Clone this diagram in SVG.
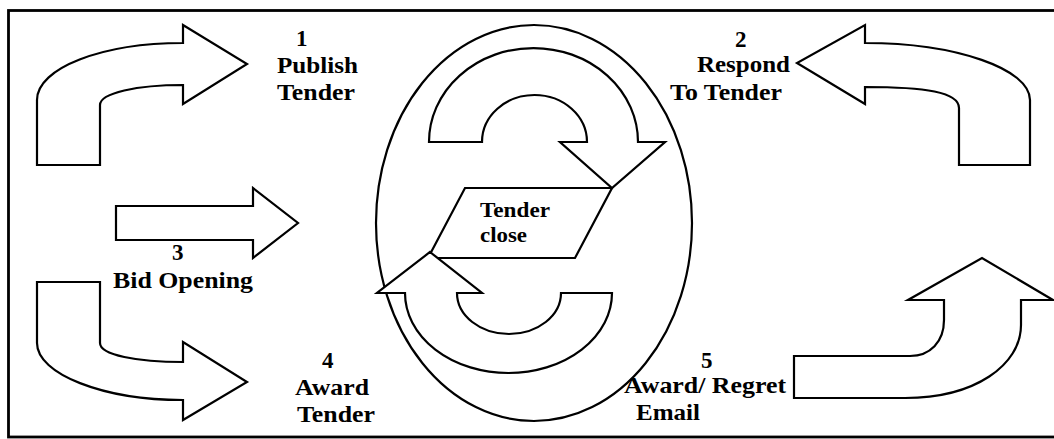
<svg xmlns="http://www.w3.org/2000/svg" width="1054" height="439" viewBox="0 0 1054 439">
<style>
.s{fill:#fff;stroke:#000;stroke-width:2.2;stroke-linejoin:miter}
.t{font-family:"Liberation Serif","Times New Roman",serif;font-weight:bold;font-size:23px;fill:#000}
.c{font-size:20px}
</style>
<rect x="0" y="0" width="1054" height="439" fill="#fff"/>
<rect x="8.5" y="10.5" width="1060" height="426.5" fill="none" stroke="#000" stroke-width="2.8"/>
<g id="connectors">
<path id="arrow-publish" class="s" d="M37,165 L37,100 C37,68 102,43 183,43 L183,25 L247,64 L183,104 L183,85 C137,85 100,93 100,105 L100,165 Z"/>
<path id="arrow-respond" class="s" d="M1030,165 L1030,100 C1030,69 956,43 865,43 L865,25 L797,63 L865,104 L865,87 C925,87 959,92 959,108 L959,165 Z"/>
<path id="arrow-bid" class="s" d="M116,206 L253,206 L253,188 L298,223 L253,258 L253,240 L116,240 Z"/>
<path id="arrow-award" class="s" d="M37,282 L100,282 L100,343 C100,355 137,362 183,362 L183,342 L247,382 L183,420 L183,400 C103,400 37,374 37,343 Z"/>
<path id="arrow-email" class="s" d="M794,356 L910,356 C930,356 944,342 944,320 L944,300 L908,300 L982,258 L1053,300 L1021,300 L1021,325 C1021,365 975,398 905,398 L794,398 Z"/>
</g>
<g id="cycle">
<ellipse class="s" cx="534" cy="223" rx="158" ry="198"/>
<polygon class="s" points="465,188 612,188 575,258 428,258"/>
<path id="cycle-top" class="s" d="M429,142 A104.5,94 0 0 1 638,142 L665,142 L612,188 L560,142 L587,142 A52.5,47 0 0 0 482,142 Z"/>
<path id="cycle-bottom" class="s" d="M430,252 L482,293 L457,293 A52,41 0 0 0 561,293 L612,293 A103.5,80 0 0 1 405,293 L377,293 Z"/>
<text class="t c" x="480" y="217" textLength="70" lengthAdjust="spacingAndGlyphs">Tender</text>
<text class="t c" x="480" y="242" textLength="47" lengthAdjust="spacingAndGlyphs">close</text>
</g>
<g id="label-1">
<text class="t" x="296" y="46">1</text>
<text class="t" x="277" y="73" textLength="81" lengthAdjust="spacingAndGlyphs">Publish</text>
<text class="t" x="277" y="100" textLength="78" lengthAdjust="spacingAndGlyphs">Tender</text>
</g>
<g id="label-2">
<text class="t" x="735" y="47">2</text>
<text class="t" x="697" y="72" textLength="93" lengthAdjust="spacingAndGlyphs">Respond</text>
<text class="t" x="670" y="100" textLength="112" lengthAdjust="spacingAndGlyphs">To Tender</text>
</g>
<g id="label-3">
<text class="t" x="172" y="260">3</text>
<text class="t" x="113" y="288" textLength="140" lengthAdjust="spacingAndGlyphs">Bid Opening</text>
</g>
<g id="label-4">
<text class="t" x="322" y="368">4</text>
<text class="t" x="295" y="395" textLength="74" lengthAdjust="spacingAndGlyphs">Award</text>
<text class="t" x="297" y="422" textLength="78" lengthAdjust="spacingAndGlyphs">Tender</text>
</g>
<g id="label-5">
<text class="t" x="701" y="368">5</text>
<text class="t" x="624" y="393" textLength="162" lengthAdjust="spacingAndGlyphs">Award/ Regret</text>
<text class="t" x="636" y="420" textLength="64" lengthAdjust="spacingAndGlyphs">Email</text>
</g>
</svg>
